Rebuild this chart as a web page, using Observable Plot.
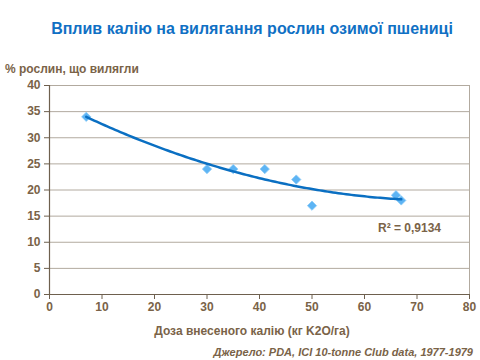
<!DOCTYPE html>
<html>
<head>
<meta charset="utf-8">
<script src="https://cdn.jsdelivr.net/npm/d3@7"></script>
<script src="https://cdn.jsdelivr.net/npm/@observablehq/plot@0.6"></script>
<style>
  body { margin: 0; background: #fff; }
  #wrap { position: relative; width: 480px; height: 360px; font-family: "Liberation Sans", Arial, sans-serif; }
  .t { position: absolute; white-space: nowrap; font-weight: bold; }
</style>
</head>
<body>
<div id="wrap">
  <div class="t" id="title" style="left:0;width:504px;text-align:center;top:20px;font-size:16px;color:#1070c4;">Вплив калію на вилягання рослин озимої пшениці</div>
  <div class="t" style="left:5px;top:62px;font-size:12px;color:#7a6348;">% рослин, що вилягли</div>
  <div class="t" style="left:0;width:504px;text-align:center;top:324px;font-size:12px;color:#7a6348;">Доза внесеного калію (кг K2O/га)</div>
  <div class="t" style="right:7px;top:346px;font-size:11px;font-style:italic;color:#7a6348;">Джерело: PDA, ICI 10-tonne Club data, 1977-1979</div>
  <div class="t" style="left:378px;top:221px;font-size:12px;color:#7a6348;">R² = 0,9134</div>
</div>
<script>
const doseK2O = [7, 30, 35, 41, 47, 50, 66, 67];
const lodgedPct = [34, 24, 24, 24, 22, 17, 19, 18];
const xTicks = [0, 10, 20, 30, 40, 50, 60, 70, 80];
const yTicks = [0, 5, 10, 15, 20, 25, 30, 35, 40];

const points = doseK2O.map((x, i) => ({x, y: lodgedPct[i]}));

// Quadratic least-squares trend (as in the Excel polynomial trendline)
function quadFit(xs, ys) {
  let S = Array(5).fill(0), T = Array(3).fill(0);
  xs.forEach((x, i) => {
    for (let k = 0; k < 5; k++) S[k] += x ** k;
    for (let k = 0; k < 3; k++) T[k] += ys[i] * x ** k;
  });
  const A = [[S[0], S[1], S[2], T[0]], [S[1], S[2], S[3], T[1]], [S[2], S[3], S[4], T[2]]];
  for (let i = 0; i < 3; i++) {
    for (let j = i + 1; j < 3; j++) {
      const f = A[j][i] / A[i][i];
      for (let k = i; k < 4; k++) A[j][k] -= f * A[i][k];
    }
  }
  const c = [0, 0, 0];
  for (let i = 2; i >= 0; i--) {
    let s = A[i][3];
    for (let k = i + 1; k < 3; k++) s -= A[i][k] * c[k];
    c[i] = s / A[i][i];
  }
  return c;
}
const c = quadFit(doseK2O, lodgedPct);
const xMin = d3.min(doseK2O), xMax = d3.max(doseK2O);
const trend = d3.range(xMin, xMax + 0.01, 0.5).map(x => ({x, y: c[0] + c[1] * x + c[2] * x * x}));

const brown = "#7a6348";
const chart = Plot.plot({
  width: 480,
  height: 360,
  marginLeft: 49,
  marginRight: 11,
  marginTop: 85,
  marginBottom: 66,
  style: { fontFamily: "Liberation Sans, Arial, sans-serif", fontSize: "12px", fontWeight: "bold", color: brown, background: "transparent" },
  x: { domain: [0, 80], ticks: xTicks, label: null },
  y: { domain: [0, 40], ticks: yTicks, label: null },
  marks: [
    Plot.gridY(yTicks.filter(d => d > 0), { stroke: "#b2aa9f", strokeOpacity: 1, strokeWidth: 1 }),
    Plot.ruleX([80], { stroke: "#b2aa9f", strokeWidth: 1 }),
    Plot.axisY({ ticks: yTicks, tickSize: 5, tickPadding: 4, stroke: "#6e604e", fill: brown, fontSize: 12, fontWeight: "bold" }),
    Plot.axisX({ ticks: xTicks, tickSize: 5, tickPadding: 3, stroke: "#6e604e", fill: brown, fontSize: 12, fontWeight: "bold" }),
    Plot.ruleX([0], { stroke: "#6e604e", strokeWidth: 1.2 }),
    Plot.ruleY([0], { stroke: "#6e604e", strokeWidth: 1.2 }),
    Plot.dot(points, { x: "x", y: "y", symbol: "diamond2", r: 4.2, fill: "#5db4f4", stroke: "#8ccbf8", strokeWidth: 0.8 }),
    Plot.line(trend, { x: "x", y: "y", stroke: "#0a6fc2", strokeWidth: 2.5, curve: "linear" })
  ]
});
chart.style.position = "absolute";
chart.style.left = "0";
chart.style.top = "0";
document.getElementById("wrap").prepend(chart);
</script>
</body>
</html>
